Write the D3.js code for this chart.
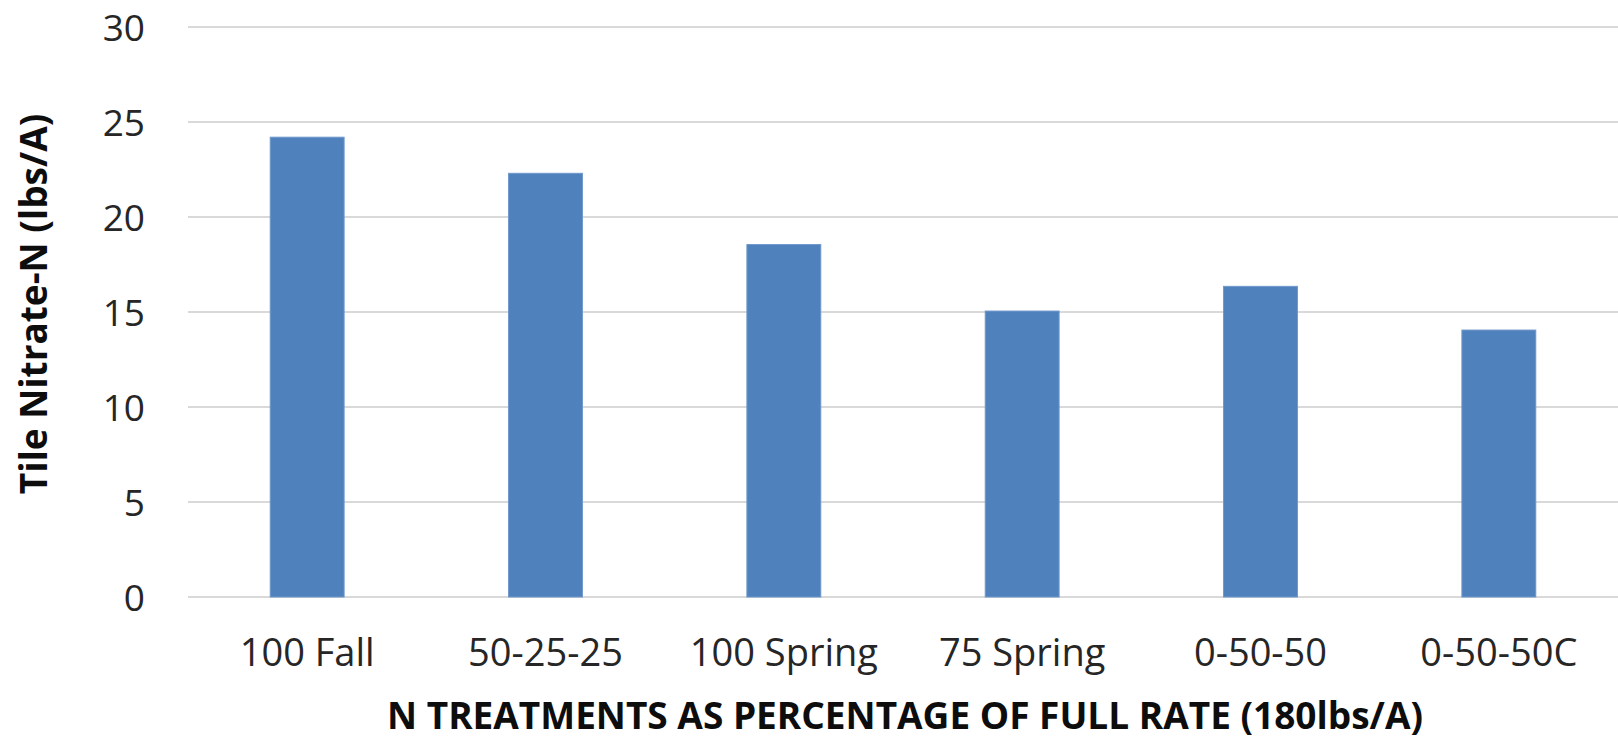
<!DOCTYPE html>
<html>
<head>
<meta charset="utf-8">
<script src="https://cdn.jsdelivr.net/npm/d3@7"></script>
<style>
  html, body { margin: 0; padding: 0; background: #fff; }
  svg { display: block; }
</style>
</head>
<body>
<svg id="chart" width="1618" height="740"></svg>
<script>
// Tile nitrate-N losses by nitrogen treatment
const categories = ["100 Fall", "50-25-25", "100 Spring", "75 Spring", "0-50-50", "0-50-50C"];
const nitrateN = [24.2, 22.3, 18.55, 15.05, 16.35, 14.05];
const yTicks = [0, 5, 10, 15, 20, 25, 30];
const yTitle = "Tile Nitrate-N (lbs/A)";
const xTitle = "N TREATMENTS AS PERCENTAGE OF FULL RATE (180lbs/A)";

const svg = d3.select("#chart");
const margin = { top: 27, right: 0, bottom: 143, left: 188 };
const width = 1618, height = 740;

const x = d3.scaleBand()
  .domain(categories)
  .range([margin.left, width - margin.right])
  .padding(0);

const y = d3.scaleLinear()
  .domain([0, 30])
  .range([height - margin.bottom, margin.top]);

// horizontal gridlines
svg.append("g")
  .selectAll("line")
  .data(yTicks)
  .join("line")
  .attr("x1", margin.left)
  .attr("x2", width - margin.right)
  .attr("y1", d => y(d))
  .attr("y2", d => y(d))
  .attr("stroke", "#d9d9d9")
  .attr("stroke-width", 2);

// bars
const barW = x.bandwidth() * 0.31;
svg.append("g")
  .selectAll("rect")
  .data(nitrateN)
  .join("rect")
  .attr("x", (d, i) => x(categories[i]) + (x.bandwidth() - barW) / 2)
  .attr("y", d => y(d))
  .attr("width", barW)
  .attr("height", d => y(0) - y(d))
  .attr("fill", "#4f81bd")
  .attr("stroke", "#6f98cb")
  .attr("stroke-width", 1);

// y axis tick labels
const yAxis = d3.axisLeft(y).tickValues(yTicks).tickSize(0).tickPadding(0);
const gy = svg.append("g")
  .attr("transform", `translate(145,0)`)
  .call(yAxis);
gy.select(".domain").remove();
gy.selectAll("text")
  .attr("font-family", "'Open Sans', sans-serif")
  .attr("font-size", 37)
  .attr("fill", "#262626")
  .attr("dy", "0.36em");

// x axis category labels
const xAxis = d3.axisBottom(x).tickSize(0).tickPadding(0);
const gx = svg.append("g")
  .attr("transform", `translate(0,${y(0)})`)
  .call(xAxis);
gx.select(".domain").remove();
gx.selectAll("text")
  .attr("font-family", "'Open Sans', sans-serif")
  .attr("font-size", 38)
  .attr("fill", "#262626")
  .attr("y", 69)
  .attr("dy", 0);

// axis titles
svg.append("text")
  .attr("transform", `translate(47,304) rotate(-90)`)
  .attr("text-anchor", "middle")
  .attr("font-family", "'Open Sans', sans-serif")
  .attr("font-weight", "bold")
  .attr("font-size", 37)
  .attr("fill", "#0d0d0d")
  .text(yTitle);

svg.append("text")
  .attr("x", 905)
  .attr("y", 729)
  .attr("text-anchor", "middle")
  .attr("font-family", "'Open Sans', sans-serif")
  .attr("font-weight", "bold")
  .attr("font-size", 37)
  .attr("fill", "#0d0d0d")
  .text(xTitle);
</script>
</body>
</html>
